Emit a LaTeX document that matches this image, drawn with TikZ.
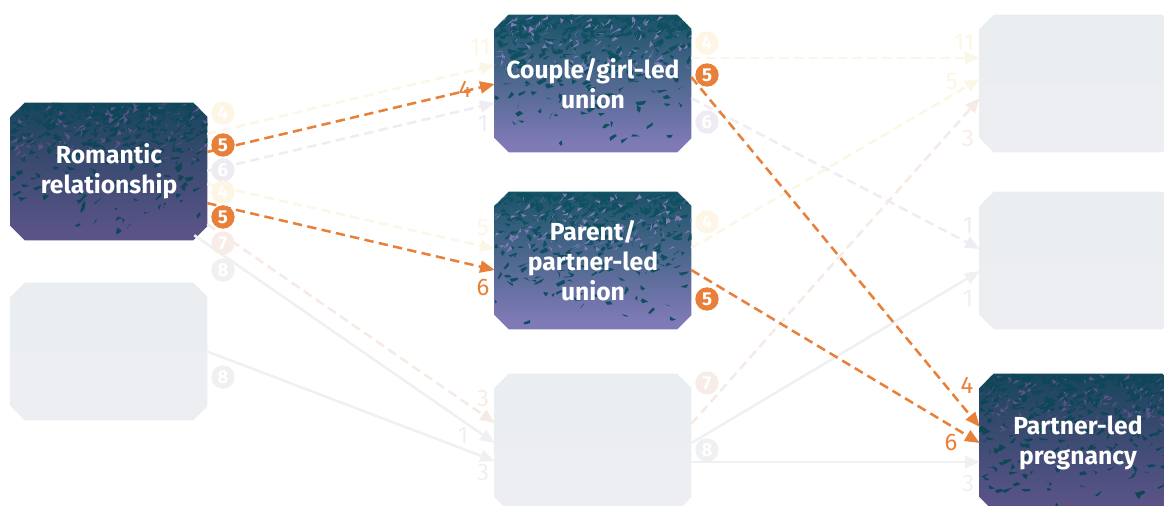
\documentclass[tikz,border=0pt]{standalone}
\usepackage{fontspec}
\setmainfont{Fira Sans}
\usetikzlibrary{arrows.meta,calc}
\pgfdeclarelayer{bg}
\pgfsetlayers{bg,main}
\definecolor{org}{HTML}{E8803A}
\definecolor{tealD}{HTML}{0C4657}
\definecolor{tealE}{HTML}{0E4F60}
\definecolor{purA}{HTML}{5A5388}
\definecolor{midA}{HTML}{34496C}
\definecolor{purB}{HTML}{7F7AB6}
\definecolor{midB}{HTML}{3F6283}
\definecolor{ghT}{HTML}{E8EDEF}
\definecolor{ghB}{HTML}{EFEFF3}
\definecolor{creamL}{HTML}{FCF6E6}
\definecolor{creamC}{HTML}{FDF6E4}
\definecolor{lavL}{HTML}{EFECF4}
\definecolor{lavC}{HTML}{EFEBF3}
\definecolor{pinkL}{HTML}{F6EAE5}
\definecolor{pinkC}{HTML}{F7ECE8}
\definecolor{grayL}{HTML}{EFF0F2}
\definecolor{grayC}{HTML}{EFF0F2}
\pgfdeclareverticalshading{darkA}{100bp}{color(0bp)=(purA); color(28bp)=(purA); color(58bp)=(midA); color(80bp)=(tealD); color(100bp)=(tealD)}
\pgfdeclareverticalshading{darkB}{100bp}{color(0bp)=(purB); color(28bp)=(purB); color(58bp)=(midB); color(80bp)=(tealE); color(100bp)=(tealE)}
\pgfdeclareverticalshading{ghostsh}{100bp}{color(0bp)=(ghB); color(100bp)=(ghT)}
\newcommand\octpath[1]{([xshift=10.5pt]#1.north west) -- ([xshift=-10.5pt]#1.north east) -- ([yshift=-10.5pt]#1.north east) -- ([yshift=10.5pt]#1.south east) -- ([xshift=-10.5pt]#1.south east) -- ([xshift=10.5pt]#1.south west) -- ([yshift=10.5pt]#1.south west) -- ([yshift=-10.5pt]#1.north west) -- cycle}
\newcommand\octfill[2]{%
  \begin{pgfonlayer}{bg}
  \shade[shading=#2] \octpath{#1};
  \end{pgfonlayer}}
% texture: name, speck colour (teal), hole colour (purple)
\newcommand\octtexture[3]{%
  \begin{pgfonlayer}{bg}
  \begin{scope}
  \clip \octpath{#1};
  \foreach \k in {1,...,360}{
    \fill[#2] ($(#1.north west)+({196*rnd},{137*rnd*rnd})$) -- ++({rnd*10-3},{rnd*4}) -- ++({-rnd*8},{rnd*5}) -- ++({-rnd*3},{-rnd*4}) -- cycle;
  }
  \foreach \k in {1,...,130}{
    \fill[#3] ($(#1.north west)+({196*rnd},{55*rnd})$) -- ++({rnd*9-3},{rnd*4}) -- ++({-rnd*7},{rnd*4}) -- cycle;
  }
  \end{scope}
  \end{pgfonlayer}}
\tikzset{
  boxnode/.style={minimum width=147pt, minimum height=102.75pt, inner sep=0pt, align=center, text=white,
    font=\bfseries\fontsize{18.5}{22.5}\selectfont},
  con/.style={line width=1.9pt, -{Triangle[length=11pt,width=9pt]}},
  dsh/.style={con, dash pattern=on 7pt off 4pt},
  circ/.style={circle, inner sep=0pt, minimum size=17.5pt, text=white, font=\bfseries\fontsize{14}{14}\selectfont},
  num/.style={inner sep=0pt, font=\fontsize{18}{18}\selectfont},
}
\begin{document}
\begin{tikzpicture}[x=0.75pt,y=-0.75pt]
\pgfmathsetseed{7}
\clip (0,0) rectangle (1164,506);
% boxes
\node[boxnode] (rom) at (109,171.5) {Romantic\\relationship};
\octfill{rom}{darkA}
\octtexture{rom}{tealD}{purA}
\node[boxnode] (ghostL) at (109,351.5) {};
\octfill{ghostL}{ghostsh}
\node[boxnode] (couple) at (593,83.5) {Couple/girl-led\\union};
\octfill{couple}{darkB}
\octtexture{couple}{tealE}{purB}
\node[boxnode] (parent) at (593,260.5) {Parent/\\partner-led\\union};
\octfill{parent}{darkB}
\octtexture{parent}{tealE}{purB}
\node[boxnode] (ghostM) at (593,442.5) {};
\octfill{ghostM}{ghostsh}
\node[boxnode] (ghostR1) at (1078,83.5) {};
\octfill{ghostR1}{ghostsh}
\node[boxnode] (ghostR2) at (1078,260.5) {};
\octfill{ghostR2}{ghostsh}
\node[boxnode] (preg) at (1078,442.5) {Partner-led\\pregnancy};
\octfill{preg}{darkA}
\octtexture{preg}{tealD}{purA}

% faded connectors
\draw[dsh, creamL] ($(rom.north east)!0.226!(rom.south east)$) -- ($(couple.north west)!0.365!(couple.south west)$);
\draw[dsh, lavL] ($(rom.north east)!0.496!(rom.south east)$) -- ($(couple.north west)!0.642!(couple.south west)$);
\draw[dsh, creamL] ($(rom.north east)!0.591!(rom.south east)$) -- ($(parent.north west)!0.416!(parent.south west)$);
\draw[dsh, pinkL] ($(rom.north east)!0.883!(rom.south east)$) -- ($(ghostM.north west)!0.358!(ghostM.south west)$);
\draw[con, grayL] ($(rom.south east)+(-13,-5)$) -- ($(ghostM.north west)!0.504!(ghostM.south west)$);
\draw[con, grayL] (ghostL.east) -- ($(ghostM.north west)!0.635!(ghostM.south west)$);
\draw[dsh, creamL] ($(couple.north east)!0.314!(couple.south east)$) -- ($(ghostR1.north west)!0.314!(ghostR1.south west)$);
\draw[dsh, lavL] ($(couple.north east)!0.606!(couple.south east)$) -- ($(ghostR2.north west)!0.416!(ghostR2.south west)$);
\draw[dsh, creamL] ($(parent.north east)!0.409!(parent.south east)$) -- ($(ghostR1.north west)!0.467!(ghostR1.south west)$);
\draw[dsh, pinkL] ($(ghostM.north east)!0.365!(ghostM.south east)$) -- ($(ghostR1.north west)!0.606!(ghostR1.south west)$);
\draw[con, grayL] ($(ghostM.north east)!0.504!(ghostM.south east)$) -- ($(ghostR2.north west)!0.577!(ghostR2.south west)$);
\draw[con, grayL] ($(ghostM.north east)!0.642!(ghostM.south east)$) -- ($(preg.north west)!0.642!(preg.south west)$);

% highlighted connectors
\draw[dsh, org] ($(rom.north east)!0.358!(rom.south east)$) -- ($(couple.north west)!0.504!(couple.south west)$);
\draw[dsh, org] ($(rom.north east)!0.730!(rom.south east)$) -- ($(parent.north west)!0.569!(parent.south west)$);
\draw[dsh, org] ($(couple.north east)!0.453!(couple.south east)$) -- ($(preg.north west)!0.387!(preg.south west)$);
\draw[dsh, org] ($(parent.north east)!0.569!(parent.south east)$) -- ($(preg.north west)!0.504!(preg.south west)$);

% circles (left)
\node[circ, fill=creamC] (cl1) at (223,113) {4};
\node[circ, fill=org] (cl2) at (223,145) {5};
\node[circ, fill=lavC] (cl3) at (223,170) {6};
\node[circ, fill=creamC] (cl4) at (223,192) {4};
\node[circ, fill=org] (cl5) at (223,217) {5};
\node[circ, fill=pinkC] (cl6) at (223,243) {7};
\node[circ, fill=grayC] (cl7) at (223,270) {8};
\node[circ, fill=grayC] (cl8) at (223,377) {8};
% circles (middle)
\node[circ, fill=creamC] (cm1) at (707,43) {4};
\node[circ, fill=org] (cm2) at (707,75) {5};
\node[circ, fill=lavC] (cm3) at (707,122) {6};
\node[circ, fill=creamC] (cm4) at (707,222) {4};
\node[circ, fill=org] (cm5) at (707,299) {5};
\node[circ, fill=pinkC] (cm6) at (707,383) {7};
\node[circ, fill=grayC] (cm7) at (707,450) {8};

% numbers at arrow ends (middle column)
\node[num, text=creamC] (n1) at (480,47) {11};
\node[num, text=org] (n2) at (465,89) {4};
\node[num, text=lavC] (n3) at (483,123) {1};
\node[num, text=creamC] (n4) at (483,228) {5};
\node[num, text=org] (n5) at (483,287) {6};
\node[num, text=pinkC] (n6) at (483,398) {3};
\node[num, text=grayC] (n7) at (463,435) {1};
\node[num, text=grayC] (n8) at (483,472) {3};
% numbers at arrow ends (right column)
\node[num, text=creamC] (r1) at (964,42) {11};
\node[num, text=creamC] (r2) at (952,82) {5};
\node[num, text=pinkC] (r3) at (968,138) {3};
\node[num, text=lavC] (r4) at (968,225) {1};
\node[num, text=grayC] (r5) at (968,298) {1};
\node[num, text=org] (r6) at (967,385) {4};
\node[num, text=org] (r7) at (951,442) {6};
\node[num, text=grayC] (r8) at (968,483) {3};
\end{tikzpicture}
\end{document}
